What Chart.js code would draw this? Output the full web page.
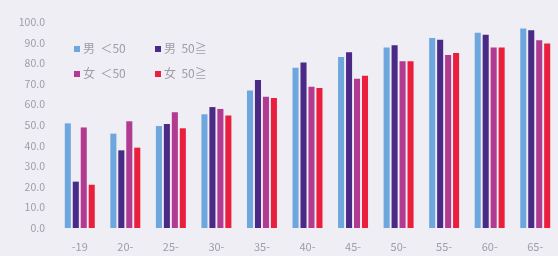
<!DOCTYPE html>
<html>
<head>
<meta charset="utf-8">
<script src="https://cdn.jsdelivr.net/npm/chart.js@4/dist/chart.umd.min.js"></script>
<style>
  html, body { margin: 0; padding: 0; background: #efeef4; }
  #wrap { position: relative; width: 558px; height: 256px; }
  #legend { position: absolute; left: 74px; top: 39px; width: 180px;
    font-family: "Noto Sans CJK JP", sans-serif; font-size: 12px; color: #9d9da8; }
  #legend span.item { display: inline-block; width: 81px; height: 25px; line-height: 18px; white-space: pre; }
  #legend i { display: inline-block; width: 6px; height: 6px; margin-right: 3px; vertical-align: 1px; }
</style>
</head>
<body>
<div id="wrap">
  <canvas id="chart" width="558" height="256"></canvas>
  <div id="legend"></div>
</div>
<script>
// age groups
const categories = ['-19', '20-', '25-', '30-', '35-', '40-', '45-', '50-', '55-', '60-', '65-'];
const seriesNames = ['男  ＜50', '男  50≧', '女  ＜50', '女  50≧'];
const seriesColors = ['#6ea7dd', '#4a2a86', '#b23a91', '#ea1f3d'];

// values
const maleUnder50 = [50.8, 45.8, 49.5, 55.2, 66.7, 77.8, 83.0, 87.6, 92.2, 94.8, 96.8];
const maleOver50 = [22.5, 37.7, 50.5, 58.7, 71.8, 80.4, 85.3, 88.7, 91.4, 93.8, 96.0];
const femaleUnder50 = [48.8, 51.8, 56.2, 57.8, 63.7, 68.6, 72.5, 80.9, 84.0, 87.6, 91.2];
const femaleOver50 = [21.0, 39.0, 48.4, 54.6, 63.1, 68.0, 73.9, 80.9, 85.0, 87.6, 89.6];

const yTicks = [0, 10, 20, 30, 40, 50, 60, 70, 80, 90, 100];

const allValues = [maleUnder50, maleOver50, femaleUnder50, femaleOver50];

const datasets = allValues.map((vals, i) => {
    return {
        label: seriesNames[i],
        data: vals,
        backgroundColor: seriesColors[i],
        categoryPercentage: 0.7,
        barPercentage: 0.76
    };
});

// html legend, two per row
const legend = document.getElementById('legend');
seriesNames.forEach((name, i) => {
    const item = document.createElement('span');
    item.className = 'item';
    item.innerHTML = '<i style="background:' + seriesColors[i] + '"></i>' + name;
    legend.appendChild(item);
});

const ctx = document.getElementById('chart').getContext('2d');
new Chart(ctx, {
    type: 'bar',
    data: { labels: categories, datasets: datasets },
    options: {
        responsive: false,
        animation: false,
        layout: { padding: { top: 22, left: 0, right: 0, bottom: 0 } },
        plugins: { legend: { display: false }, tooltip: { enabled: false } },
        scales: {
            x: {
                grid: { display: false, drawTicks: false },
                border: { display: false },
                ticks: {
                    color: '#9d9da8',
                    font: { family: 'Noto Sans CJK JP', size: 11 },
                    padding: 12,
                    maxRotation: 0
                },
                afterFit: (scale) => { scale.height = 28; }
            },
            y: {
                min: 0,
                max: 100,
                afterBuildTicks: (scale) => { scale.ticks = yTicks.map(v => ({ value: v })); },
                grid: { display: false, drawTicks: false },
                border: { display: false },
                ticks: {
                    color: '#9d9da8',
                    font: { family: 'Noto Sans CJK JP', size: 10.5 },
                    padding: 12,
                    callback: (v) => Number(v).toFixed(1)
                },
                afterFit: (scale) => { scale.width = 57; }
            }
        }
    }
});
</script>
</body>
</html>
